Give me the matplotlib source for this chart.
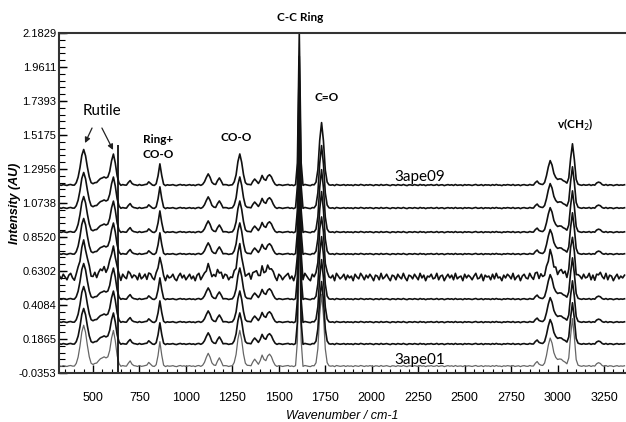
import numpy as np
import matplotlib.pyplot as plt
from matplotlib.ticker import MultipleLocator, FixedLocator

plt.rcParams['font.family'] = ['Liberation Sans Narrow', 'Liberation Sans', 'DejaVu Sans']

# wavenumber axis of the spectra (cm-1)
wavenumber = np.arange(320, 3370, 10)

# band table for the spectra: centre (cm-1), height (AU), half width at half max (cm-1)
band_centre = [450, 560, 610, 700, 800, 860, 1120, 1180, 1290, 1370, 1410, 1450,
               1610, 1730, 2890, 2960, 3010, 3080, 3220]
band_height = [0.23, 0.05, 0.19, 0.03, 0.02, 0.14, 0.07, 0.05, 0.20, 0.04, 0.06, 0.07,
               0.99, 0.41, 0.025, 0.15, 0.04, 0.27, 0.02]
band_width = [20, 35, 15, 9, 9, 9, 15, 10, 16, 11, 11, 16,
              6, 14, 11, 17, 30, 12, 12]

# sample names, baseline offsets and band scaling for each spectrum (bottom to top)
sample_names = ['3ape01', '3ape02', '3ape03', '3ape04', '3ape05',
                '3ape06', '3ape07', '3ape08', '3ape09']
offsets = [0.010, 0.154, 0.297, 0.447, 0.591, 0.741, 0.884, 1.041, 1.191]
band_scale = [1.15, 1.0, 1.0, 1.0, 1.0, 1.0, 1.0, 1.0, 1.0]
noise_gain = [0.15, 0.15, 0.15, 0.15, 1.0, 0.15, 0.15, 0.15, 0.15]

# detector noise, one value per wavenumber point (units of 0.006 AU)
noise = [
    1, -2, 3, 0, -3, 2, 4, -1, -4, 1, 3, -2, 0, 2, -3, 1, 4, -2, -1, 3,
    -4, 0, 2, -1, 3, -3, 1, 4, -2, 0, -3, 2, 1, -4, 3, 0, -2, 4, -1, -3,
    2, 1, -3, 4, -2, 0, 3, -4, 1, 2, -1, -3, 4, 0, -2, 3, 1, -4, 2, -1,
    0, 3, -2, -4, 1, 4, -1, 2, -3, 0, 3, -2, 1, -4, 2, 4, -3, 0, 1, -2,
    3, -1, -3, 2, 0, 4, -4, 1, -2, 3, 2, -3, 0, -1, 4, -2, 1, 3, -4, 0,
    -2, 2, 4, -3, 1, -1, 3, 0, -4, 2, -2, 1, 4, -3, 0, 2, -1, -4, 3, 1,
    -3, 0, 2, 4, -2, 1, -4, 3, -1, 0, 2, -3, 4, 1, -2, -4, 3, 0, 2, -1,
    4, -3, 1, -2, 3, 0, -1, 2, -4, 4, 1, -2, 0, 3, -3, 2, -1, 1, -4, 3,
    0, -2, 4, 1, -3, 2, -1, 3, 0, -4, 2, 1, -3, 4, -2, 0, 3, -1, -4, 2,
    1, -3, 3, 0, -2, 4, -1, -4, 2, 1, -2, 3, 0, -3, 4, -1, 2, -4, 1, 0,
    3, -2, -1, 4, -3, 1, 2, -4, 0, 3, -1, 2, -3, 4, -2, 0, 1, -4, 3, -1,
    2, 0, -3, 1, 4, -2, -1, 3, -4, 2, 0, 1, -3, 3, -2, 4, -1, 0, -4, 2,
    -1, 3, 1, -2, 4, -3, 0, 2, -4, 1, 3, -1, -2, 4, 0, -3, 2, 1, -4, 3,
    0, -1, 2, -3, 4, 1, -2, 3, -4, 0, 2, -1, 3, -3, 1, 4, -2, 0, -4, 2,
    1, -2, 3, -1, 0, 4, -3, 2, -4, 1, -1, 3, 0, -2, 4, -3, 2, 1, -4, 0,
    3, -2, 1, -1, 2,
]

# sharp line near the rutile band
edge_line_x = 635
edge_line_top = 1.452

y_ticks = [-0.0353, 0.1865, 0.4084, 0.6302, 0.8520, 1.0738, 1.2956,
           1.5175, 1.7393, 1.9611, 2.1829]
x_ticks = [500, 750, 1000, 1250, 1500, 1750, 2000, 2250, 2500, 2750, 3000, 3250]


def band_profile(x, centre, height, hwhm):
    return height * np.exp(-np.log(2) * ((x - centre) / hwhm) ** 2)


spectrum = np.zeros(len(wavenumber))
for c, h, w in zip(band_centre, band_height, band_width):
    spectrum += band_profile(wavenumber, c, h, w)
noise_arr = np.array(noise) * 0.006

fig = plt.figure(figsize=(6.26, 4.22), dpi=100)
ax = fig.add_axes([0.0942, 0.1161, 0.9058, 0.8057])

for i in range(len(sample_names)):
    trace = offsets[i] + band_scale[i] * spectrum + noise_gain[i] * noise_arr
    if i == 0:
        ax.plot(wavenumber, trace, color='#666666', lw=0.9)
    else:
        ax.plot(wavenumber, trace, color='#111111', lw=1.2)

ax.vlines(edge_line_x, y_ticks[0], edge_line_top, color='#111111', lw=1.3)

ax.set_xlim(317, 3368)
ax.set_ylim(y_ticks[0], y_ticks[-1])
ax.yaxis.set_major_locator(FixedLocator(y_ticks))
ax.yaxis.set_minor_locator(FixedLocator(np.arange(y_ticks[0], y_ticks[-1], (y_ticks[1] - y_ticks[0]) / 5)))
ax.set_yticklabels(['%.4f' % v for v in y_ticks])
ax.xaxis.set_major_locator(FixedLocator(x_ticks))
ax.xaxis.set_minor_locator(MultipleLocator(50))

ax.tick_params(axis='y', which='major', direction='in', length=6, width=1, labelsize=8, pad=2)
ax.tick_params(axis='y', which='minor', direction='in', length=4, width=0.8)
ax.tick_params(axis='x', which='major', direction='in', length=6, width=1, labelsize=9, pad=14)
ax.tick_params(axis='x', which='minor', direction='in', length=3, width=0.8)

ax.spines['right'].set_visible(False)
for s in ['top', 'left', 'bottom']:
    ax.spines[s].set_color('#333333')
    ax.spines[s].set_linewidth(1.5)

ax.set_ylabel('Intensity (AU)', fontsize=9, fontweight='bold', style='italic', va='center')
ax.yaxis.set_label_coords(-0.078, 0.5)
ax.set_xlabel('Wavenumber / cm-1', fontsize=9, style='italic', labelpad=4)

# band assignments
lab = dict(family=['Lato', 'DejaVu Sans'], fontweight='bold', fontsize=8.5, ha='center', va='center')
ax.text(1614, 2.287, 'C-C Ring', clip_on=False, **lab)
ax.text(1759, 1.765, 'C=O', **lab)
ax.text(1270, 1.504, 'CO-O', **lab)
ax.text(850, 1.439, 'Ring+\nCO-O', linespacing=1.5, **lab)
ax.text(3094, 1.583, r'v(CH$_2$)', **lab)

ax.text(548, 1.674, 'Rutile', family=['Lato', 'DejaVu Sans'], fontsize=11, ha='center', va='center')
arrow = dict(arrowstyle='-|>', color='#222222', lw=0.9, mutation_scale=8, shrinkA=0, shrinkB=0)
ax.annotate('', xy=(457, 1.465), xytext=(495, 1.563), arrowprops=arrow)
ax.annotate('', xy=(608, 1.42), xytext=(548, 1.563), arrowprops=arrow)

ax.text(2260, 1.243, sample_names[-1], family=['Lato', 'DejaVu Sans'], fontsize=11, ha='center', va='center')
ax.text(2260, 0.050, sample_names[0], family=['Lato', 'DejaVu Sans'], fontsize=11, ha='center', va='center')

fig.savefig('out.png', dpi=100)
